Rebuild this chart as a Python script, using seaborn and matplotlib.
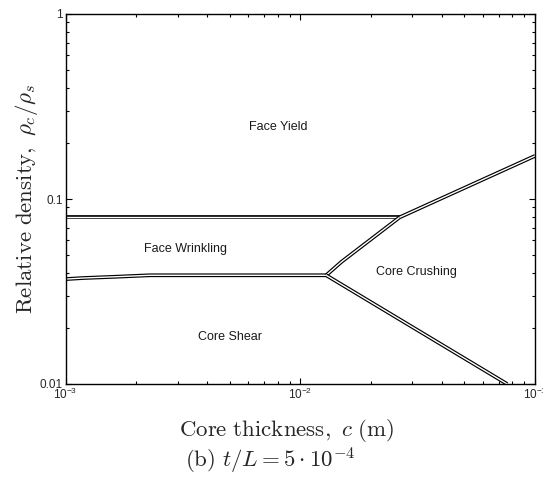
import matplotlib
matplotlib.use("Agg")
import matplotlib.pyplot as plt
import matplotlib.patheffects as pe
from matplotlib.ticker import FixedLocator, FixedFormatter, NullFormatter, LogLocator
import seaborn as sns
import pandas as pd

# ---- data ----
# boundaries: core thickness c (m) vs relative density rho_c/rho_s
yield_wrinkle_c = [0.001, 0.0265]
yield_wrinkle_rho = [0.0796, 0.0796]

shear_wrinkle_c = [0.001, 0.00119, 0.00156, 0.00229, 0.0129]
shear_wrinkle_rho = [0.0369, 0.0374, 0.0379, 0.0387, 0.0387]

crush_wrinkle_c = [0.0129, 0.0150, 0.0265]
crush_wrinkle_rho = [0.0387, 0.0458, 0.0796]

crush_yield_c = [0.0265, 0.1]
crush_yield_rho = [0.0796, 0.171]

crush_shear_c = [0.0129, 0.0761]
crush_shear_rho = [0.0387, 0.01]

region_names = ["Face Yield", "Face Wrinkling", "Core Crushing", "Core Shear"]
region_c = [0.00809, 0.00326, 0.0312, 0.0050]
region_rho = [0.244, 0.0537, 0.0405, 0.0179]

x_ticks = [1e-3, 1e-2, 1e-1]
x_tick_labels = [r"$\mathdefault{10^{-3}}$", r"$\mathdefault{10^{-2}}$", r"$\mathdefault{10^{-1}}$"]
y_ticks = [0.01, 0.1, 1]
y_tick_labels = ["0.01", "0.1", "1"]

# ---- style ----
sns.set_theme(style="white")
plt.rcParams["font.family"] = ["Liberation Sans", "DejaVu Sans"]
plt.rcParams["mathtext.fontset"] = "cm"
plt.rcParams["mathtext.default"] = "it"

fig = plt.figure(figsize=(5.43, 4.79), dpi=100)
ax = fig.add_axes([65.5 / 543, 1 - 384 / 479, (535 - 65.5) / 543, (384 - 14) / 479])

segments = [
    (yield_wrinkle_c, yield_wrinkle_rho),
    (shear_wrinkle_c, shear_wrinkle_rho),
    (crush_wrinkle_c, crush_wrinkle_rho),
    (crush_yield_c, crush_yield_rho),
    (crush_shear_c, crush_shear_rho),
]
for cs, rs in segments:
    df = pd.DataFrame({"c": cs, "rho": rs})
    sns.lineplot(data=df, x="c", y="rho", sort=False, estimator=None, ax=ax,
                 color="white", linewidth=1.0, solid_capstyle="butt",
                 path_effects=[pe.Stroke(linewidth=2.7, foreground="black"), pe.Normal()])

ax.set_xscale("log")
ax.set_yscale("log")
ax.set_xlim(1e-3, 1e-1)
ax.set_ylim(0.01, 1)

for name, c, r in zip(region_names, region_c, region_rho):
    ax.text(c, r, name, ha="center", va="center", fontsize=9, color="#1a1a1a")

ax.xaxis.set_major_locator(FixedLocator(x_ticks))
ax.xaxis.set_major_formatter(FixedFormatter(x_tick_labels))
ax.yaxis.set_major_locator(FixedLocator(y_ticks))
ax.yaxis.set_major_formatter(FixedFormatter(y_tick_labels))
ax.xaxis.set_minor_locator(LogLocator(base=10, subs=range(2, 10)))
ax.yaxis.set_minor_locator(LogLocator(base=10, subs=range(2, 10)))
ax.xaxis.set_minor_formatter(NullFormatter())
ax.yaxis.set_minor_formatter(NullFormatter())

ax.tick_params(which="both", direction="in", top=True, right=True, bottom=True, left=True,
               color="black", width=0.8)
ax.tick_params(which="major", length=4, labelsize=8.5, pad=2)
ax.tick_params(which="minor", length=2)
for s in ax.spines.values():
    s.set_color("black")
    s.set_linewidth(1.0)
ax.set_xlabel("")
ax.set_ylabel("")

fig.text(287 / 543, 1 - 431 / 479, r"$\mathrm{Core\ thickness,}\ c\ \mathrm{(m)}$",
         ha="center", va="center", fontsize=16.5)
fig.text(270 / 543, 1 - 461 / 479, r"$\mathrm{(b)}\ t/L=5\cdot10^{-4}$",
         ha="center", va="center", fontsize=16.5)
fig.text(27 / 543, 1 - 199 / 479, r"$\mathrm{Relative\ density,}\ \rho_c/\rho_s$",
         ha="center", va="center", rotation=90, fontsize=16.5)

fig.savefig("out.png", dpi=100)
